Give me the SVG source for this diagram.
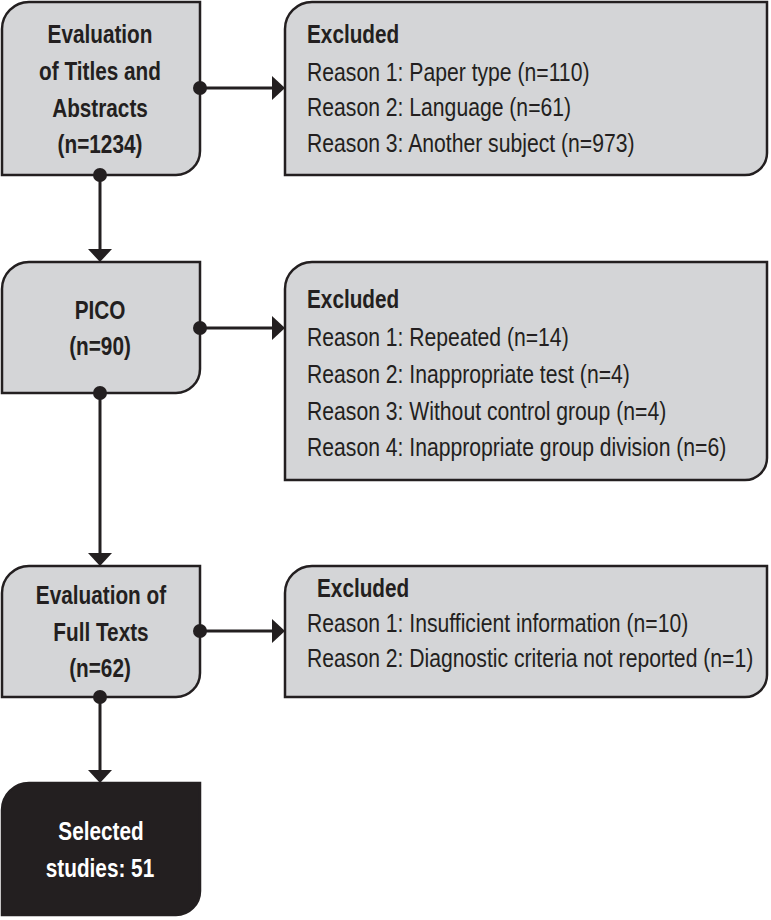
<svg xmlns="http://www.w3.org/2000/svg" width="771" height="920" viewBox="0 0 771 920">
<style>
.box{fill:#d4d5d7;stroke:#231f20;stroke-width:2.5}
.dark{fill:#231f20;stroke:#231f20;stroke-width:2.5}
.b{font-family:"Liberation Sans Narrow","Liberation Sans",Arial,sans-serif;font-weight:bold;font-size:25px;fill:#231f20}
.c{text-anchor:middle}
.w{fill:#ffffff}
.r{font-family:"Liberation Sans Narrow","Liberation Sans",Arial,sans-serif;font-size:25.5px;fill:#231f20}
.ln{stroke:#231f20;stroke-width:3;fill:none}
.dot{fill:#231f20}
.ah{fill:#231f20}
</style>
<rect width="771" height="920" fill="#ffffff"/>
<g id="n1">
<path class="box" d="M2,29 A27,27 0 0 1 29,2 H200 V151 A24,24 0 0 1 176,175 H2 Z"/>
<text class="b c" transform="translate(100 43) scale(0.83 1)">Evaluation</text>
<text class="b c" transform="translate(100 80) scale(0.83 1)">of Titles and</text>
<text class="b c" transform="translate(100 117) scale(0.83 1)">Abstracts</text>
<text class="b c" transform="translate(100 153) scale(0.83 1)">(n=1234)</text>
</g>
<g id="x1">
<path class="box" d="M285,29 A27,27 0 0 1 312,2 H767 V153 A22,22 0 0 1 745,175 H285 Z"/>
<text class="b" transform="translate(307 43) scale(0.83 1)">Excluded</text>
<text class="r" transform="translate(307 81) scale(0.83 1)">Reason 1: Paper type (n=110)</text>
<text class="r" transform="translate(307 116) scale(0.83 1)">Reason 2: Language (n=61)</text>
<text class="r" transform="translate(307 152) scale(0.83 1)">Reason 3: Another subject (n=973)</text>
</g>
<g id="n2">
<path class="box" d="M2,289 A27,27 0 0 1 29,262 H200 V369 A24,24 0 0 1 176,393 H2 Z"/>
<text class="b c" transform="translate(100 319) scale(0.83 1)">PICO</text>
<text class="b c" transform="translate(100 355) scale(0.83 1)">(n=90)</text>
</g>
<g id="x2">
<path class="box" d="M285,289 A27,27 0 0 1 312,262 H767 V458 A22,22 0 0 1 745,480 H285 Z"/>
<text class="b" transform="translate(307 308) scale(0.83 1)">Excluded</text>
<text class="r" transform="translate(307 346) scale(0.83 1)">Reason 1: Repeated (n=14)</text>
<text class="r" transform="translate(307 383) scale(0.83 1)">Reason 2: Inappropriate test (n=4)</text>
<text class="r" transform="translate(307 420) scale(0.83 1)">Reason 3: Without control group (n=4)</text>
<text class="r" transform="translate(307 456) scale(0.83 1)">Reason 4: Inappropriate group division (n=6)</text>
</g>
<g id="n3">
<path class="box" d="M2,593 A27,27 0 0 1 29,566 H200 V673 A24,24 0 0 1 176,697 H2 Z"/>
<text class="b c" transform="translate(101 604) scale(0.83 1)">Evaluation of</text>
<text class="b c" transform="translate(101 641) scale(0.83 1)">Full Texts</text>
<text class="b c" transform="translate(100 677) scale(0.83 1)">(n=62)</text>
</g>
<g id="x3">
<path class="box" d="M285,593 A27,27 0 0 1 312,566 H767 V675 A22,22 0 0 1 745,697 H285 Z"/>
<text class="b" transform="translate(317 597) scale(0.83 1)">Excluded</text>
<text class="r" transform="translate(307 632) scale(0.83 1)">Reason 1: Insufficient information (n=10)</text>
<text class="r" transform="translate(307 667) scale(0.83 1)">Reason 2: Diagnostic criteria not reported (n=1)</text>
</g>
<g id="n4">
<path class="dark" d="M2,810 A27,27 0 0 1 29,783 H200 V891 A24,24 0 0 1 176,915 H2 Z"/>
<text class="b c w" transform="translate(101 840) scale(0.83 1)">Selected</text>
<text class="b c w" transform="translate(100 877) scale(0.83 1)">studies: 51</text>
</g>
<g id="connectors">
<line class="ln" x1="200" y1="88" x2="273" y2="88"/>
<circle class="dot" cx="200" cy="88" r="7"/>
<polygon class="ah" points="272,76 285,88 272,100"/>
<line class="ln" x1="200" y1="328" x2="273" y2="328"/>
<circle class="dot" cx="200" cy="328" r="7"/>
<polygon class="ah" points="272,316 285,328 272,340"/>
<line class="ln" x1="200" y1="631" x2="273" y2="631"/>
<circle class="dot" cx="200" cy="631" r="7"/>
<polygon class="ah" points="272,619 285,631 272,643"/>
<line class="ln" x1="100" y1="175" x2="100" y2="250"/>
<circle class="dot" cx="100" cy="175" r="7"/>
<polygon class="ah" points="88,249 112,249 100,262"/>
<line class="ln" x1="100" y1="393" x2="100" y2="554"/>
<circle class="dot" cx="100" cy="393" r="7"/>
<polygon class="ah" points="88,553 112,553 100,566"/>
<line class="ln" x1="100" y1="697" x2="100" y2="771"/>
<circle class="dot" cx="100" cy="697" r="7"/>
<polygon class="ah" points="88,770 112,770 100,783"/>
</g>
</svg>
